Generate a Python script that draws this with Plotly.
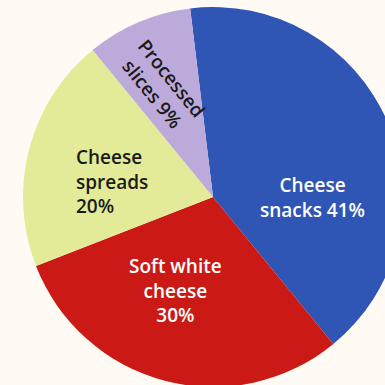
import plotly.graph_objects as go

labels = ["Cheese snacks", "Soft white cheese", "Cheese spreads", "Processed slices"]
values = [41, 30, 20, 9]
label_lines = [["Cheese", "snacks {v}%"], ["Soft white", "cheese", "{v}%"],
               ["Cheese", "spreads", "{v}%"], ["Processed", "slices {v}%"]]
colors = ["#2f56b4", "#cb1a15", "#e3eb98", "#bcaadb"]
text_colors = ["#ffffff", "#ffffff", "#1a1a1a", "#1a1a1a"]

W, H = 405, 392

fig = go.Figure(go.Pie(
    labels=labels,
    values=values,
    textinfo="none",
    sort=False,
    direction="clockwise",
    rotation=-6.9,
    marker=dict(colors=colors, line=dict(width=0)),
    domain=dict(x=[23 / W, 403 / W], y=[1 - 387 / H, 1 - 7 / H]),
    showlegend=False,
    hoverinfo="label+percent",
))

# label placement (pixel centres in the figure), text built from the data
label_pos = [(312, 197, "center", 0), (175, 290, "center", 0),
             (74, 181, "left", 0), (161, 86, "center", 51)]
for lines, v, col, (px, py, anchor, ang) in zip(label_lines, values, text_colors, label_pos):
    fig.add_annotation(
        x=px / W, y=1 - py / H, xref="paper", yref="paper",
        text="<br>".join(l.format(v=v) for l in lines),
        showarrow=False, xanchor=anchor, yanchor="middle",
        align="left" if anchor == "left" else "center",
        textangle=ang,
        font=dict(family="Open Sans", size=19, color=col, weight=600),
    )

fig.update_layout(
    width=W, height=H,
    margin=dict(l=0, r=0, t=0, b=0),
    paper_bgcolor="#fffaf4",
    plot_bgcolor="#fffaf4",
)

fig.write_html(
    "out.html",
    config={"displayModeBar": False},
    post_script="document.body.style.margin='0';document.body.style.overflow='hidden';document.documentElement.style.overflow='hidden';document.body.style.background='#fffaf4';",
)
